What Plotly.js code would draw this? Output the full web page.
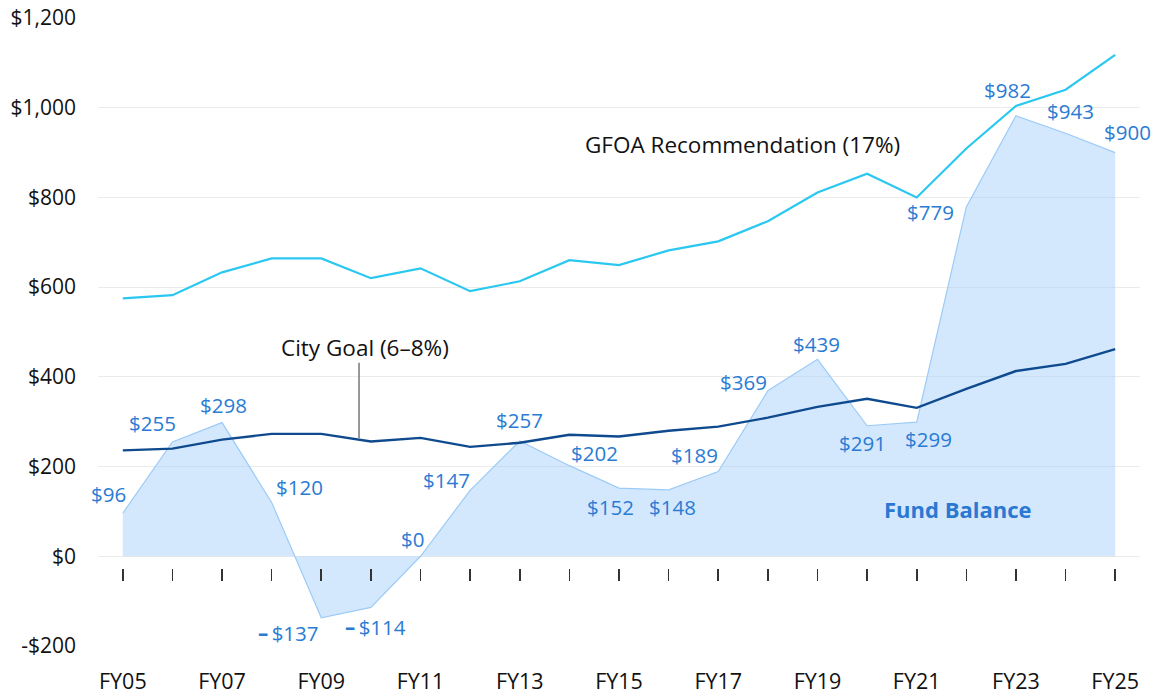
<!DOCTYPE html>
<html>
<head>
<meta charset="utf-8">
<script src="https://cdn.plot.ly/plotly-3.0.1.min.js"></script>
<style>html,body{margin:0;padding:0;background:#fff;}#chart{width:1156px;height:694px;}</style>
</head>
<body>
<div id="chart"></div>
<script>
// ---- Data ----
const categories = ["FY05","FY06","FY07","FY08","FY09","FY10","FY11","FY12","FY13","FY14","FY15","FY16","FY17","FY18","FY19","FY20","FY21","FY22","FY23","FY24","FY25"];
const fundBalance = [96,255,298,120,-137,-114,0,147,257,202,152,148,189,369,439,291,299,779,982,943,900];
const fundLabels = ["$96","$255","$298","$120","<b>–</b>\u2009$137","<b>–</b>\u2009$114","$0","$147","$257","$202","$152","$148","$189","$369","$439","$291","$299","$779","$982","$943","$900"];
const gfoaRecommendation = [575,582,633,664,664,620,642,591,613,660,649,682,702,747,811,853,800,909,1004,1040,1118];
const cityGoal = [236,240,260,273,273,256,264,244,253,271,267,280,289,309,333,351,331,373,413,429,462];
const yTickVals = [-200,0,200,400,600,800,1000,1200];
const yTickText = ["-$200","$0","$200","$400","$600","$800","$1,000","$1,200"];
const xTickLabels = ["FY05","FY07","FY09","FY11","FY13","FY15","FY17","FY19","FY21","FY23","FY25"];

// label offsets in pixels [dx, dy] (style only)
const labelOffsets = [[-14,19],[-20,19],[1,18],[28,15],[-33,-15],[5,-20],[-8,17],[-24,10],[0,21],[25,13],[-9,-19],[4,-17],[-24,17],[-24,9],[-1,15],[-5,-17],[12,-17],[-36,-5],[-8,26],[5,22],[12,21]];

const FONT = "Open Sans, Noto Sans, sans-serif";
const LABEL_BLUE = "#2a7bd3";

const traces = [
  {
    type: "scatter", mode: "lines", x: categories, y: fundBalance,
    fill: "tozeroy", fillcolor: "rgba(160,205,250,0.45)",
    line: {color: "#9ccbf7", width: 1.2},
    hoverinfo: "skip", showlegend: false
  },
  {
    type: "scatter", mode: "lines", x: categories, y: gfoaRecommendation,
    line: {color: "#2ac8f0", width: 2.2},
    hoverinfo: "skip", showlegend: false
  },
  {
    type: "scatter", mode: "lines", x: categories, y: cityGoal,
    line: {color: "#0f4a8e", width: 2.4},
    hoverinfo: "skip", showlegend: false
  },
  {
    type: "scatter", mode: "none", x: categories.map((_, i) => i), y: fundBalance,
    xaxis: "x2", hoverinfo: "skip", showlegend: false
  }
];

const annotations = categories.map((c, i) => ({
  x: c, y: fundBalance[i], xref: "x", yref: "y",
  text: fundLabels[i], showarrow: false,
  xanchor: "center", yanchor: "middle",
  xshift: labelOffsets[i][0], yshift: labelOffsets[i][1],
  font: {family: FONT, size: 20.5, color: LABEL_BLUE}
}));

annotations.push(
  {xref: "paper", yref: "paper", x: 0.619, y: 0.798, xanchor: "center", yanchor: "middle",
   text: "GFOA Recommendation (17%)", showarrow: false,
   font: {family: FONT, size: 22.5, color: "#111"}},
  {xref: "paper", yref: "paper", x: 0.256, y: 0.476, xanchor: "center", yanchor: "middle",
   text: "City Goal (6–8%)", showarrow: false,
   font: {family: FONT, size: 22.5, color: "#111"}},
  {xref: "paper", yref: "paper", x: 0.825, y: 0.218, xanchor: "center", yanchor: "middle",
   text: "<b>Fund Balance</b>", showarrow: false,
   font: {family: FONT, size: 22, color: "#2a78d2"}}
);

const layout = {
  width: 1156, height: 694,
  margin: {l: 98, r: 16, t: 18, b: 48},
  paper_bgcolor: "#fff", plot_bgcolor: "#fff",
  font: {family: FONT, size: 20, color: "#111"},
  showlegend: false,
  xaxis: {
    type: "category", range: [-0.5, 20.5],
    tickmode: "array", tickvals: xTickLabels, ticktext: xTickLabels,
    showgrid: false, zeroline: false, showline: false, ticks: "",
    ticklabelstandoff: 20,
    tickfont: {family: FONT, size: 21.5, color: "#111"},
    fixedrange: true
  },
  xaxis2: {
    overlaying: "x", anchor: "free", position: 0.124, side: "bottom",
    range: [-0.5, 20.5], tickmode: "linear", tick0: 0, dtick: 1,
    showticklabels: false, showgrid: false, zeroline: false, showline: false,
    ticks: "outside", ticklen: 12, tickwidth: 1.6, tickcolor: "#333",
    fixedrange: true
  },
  yaxis: {
    range: [-200, 1200], tickmode: "array", tickvals: yTickVals, ticktext: yTickText,
    showgrid: true, gridcolor: "#ebebeb", gridwidth: 1, zeroline: false, showline: false,
    ticks: "", ticklabelstandoff: 21,
    tickfont: {family: FONT, size: 21, color: "#111"},
    fixedrange: true
  },
  shapes: [
    {type: "line", xref: "paper", yref: "paper", x0: 0.2505, x1: 0.2505, y0: 0.331, y1: 0.451,
     line: {color: "#777", width: 1.5}}
  ],
  annotations: annotations
};

Plotly.newPlot("chart", traces, layout, {staticPlot: true, displayModeBar: false});
</script>
</body>
</html>
